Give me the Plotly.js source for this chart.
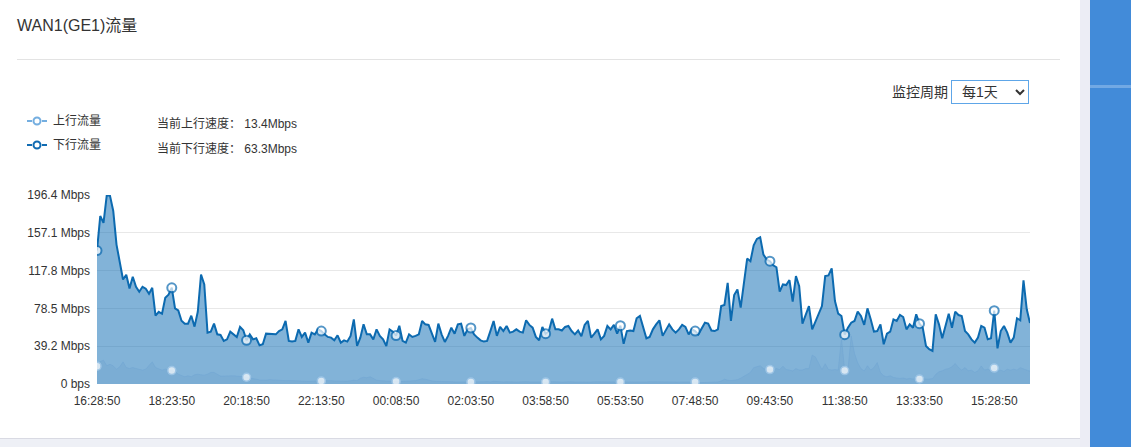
<!DOCTYPE html>
<html>
<head>
<meta charset="utf-8">
<script src="https://cdn.plot.ly/plotly-3.0.1.min.js"></script>
<style>
  html, body { margin:0; padding:0; width:1131px; height:447px; overflow:hidden; background:#eef0f6;
    font-family:"Liberation Sans", Arial, "Noto Sans CJK SC", sans-serif; color:#333; }
  #card { position:absolute; left:0; top:0; width:1080px; height:438px; background:#fff; border-bottom:1px solid #d9dae3; }
  #title { position:absolute; left:17px; top:15px; font-size:16px; line-height:22px; color:#333; }
  #sep { position:absolute; left:17px; top:59px; width:1043px; height:1px; background:#e3e3e3; }
  #period { position:absolute; left:892px; top:83px; font-size:14px; line-height:18px; color:#333; }
  #sel { position:absolute; left:951px; top:80px; width:76px; height:22px; border:1px solid #5ea6e8; background:#fff; }
  #sel span { position:absolute; left:10px; top:2px; font-size:14px; line-height:18px; color:#333; }
  #sel svg { position:absolute; left:63px; top:8px; }
  .leg { position:absolute; left:27px; font-size:12px; line-height:14px; }
  .leg svg { position:absolute; left:0; top:1px; }
  .leg span { position:absolute; left:26px; top:0; white-space:nowrap; }
  .cur { position:absolute; left:157px; font-size:12px; line-height:14px; white-space:nowrap; }
  #chart { position:absolute; left:0; top:170px; width:1060px; height:240px; }
  #gstrip { position:absolute; left:1080px; top:0; width:10px; height:447px; background:#ecedf5; }
  #blue { position:absolute; left:1090px; top:0; width:41px; height:447px; background:#428bd9; overflow:hidden; }
  #blue .band { position:absolute; left:0; top:85px; width:41px; height:3px; background:#72a9e4; }
</style>
</head>
<body>
<div id="card">
  <div id="title">WAN1(GE1)流量</div>
  <div id="sep"></div>
  <div id="period">监控周期</div>
  <div id="sel"><span>每1天</span>
    <svg width="10" height="7" viewBox="0 0 10 7"><polyline points="1,1 5,5 9,1" fill="none" stroke="#333" stroke-width="2"/></svg>
  </div>
  <div class="leg" style="top:114px;">
    <svg width="20" height="12"><line x1="0" y1="6" x2="5" y2="6" stroke="#74aee0" stroke-width="2"/><circle cx="10" cy="6" r="3.5" fill="#fff" stroke="#74aee0" stroke-width="2"/><line x1="15" y1="6" x2="20" y2="6" stroke="#74aee0" stroke-width="2"/></svg>
    <span>上行流量</span>
  </div>
  <div class="leg" style="top:138px;">
    <svg width="20" height="12"><line x1="0" y1="6" x2="5" y2="6" stroke="#106bb2" stroke-width="2"/><circle cx="10" cy="6" r="3.5" fill="#fff" stroke="#106bb2" stroke-width="2"/><line x1="15" y1="6" x2="20" y2="6" stroke="#106bb2" stroke-width="2"/></svg>
    <span>下行流量</span>
  </div>
  <div class="cur" style="top:117px;">当前上行速度：&nbsp;13.4Mbps</div>
  <div class="cur" style="top:142px;">当前下行速度：&nbsp;63.3Mbps</div>
  <div id="chart"></div>
</div>
<div id="gstrip"></div>
<div id="blue"><div class="band"></div></div>
<script>
// Download (下行) Mbps, 5-minute samples from 16:28:50
const downValues = [
138.7,174.6,167.4,196,195.5,179.8,144.9,128,108.6,113.5,99.3,111.4,101,95.9,101,99,93.8,100,71,75,73,89.6,92.8,
100,78.6,76.5,65.8,62.7,62.7,71,59.6,75,113.8,103.4,53.4,54.4,62.7,51.6,51,44.8,46.4,54.4,51.6,48.9,59.3,55.8,
45.4,51.6,46.4,47.5,40.2,41.3,52.3,52.3,52.3,51.6,55,56.8,65.5,44.8,44.1,44.8,56.8,48.9,53.4,43,53.4,51.6,56.8,
55,51.6,48.9,48.2,45.4,50.6,43,45.4,44.1,50,67.2,39.5,48.2,62,51.6,51.6,46.4,56.8,50,46.4,39.5,56.8,54.4,
50.3,60.5,44.8,43,51.6,48.9,50,51.6,65.5,62,61.4,52.3,43.7,62.7,51.6,43.7,50,58.5,52.3,62,62.7,50,56.8,
58.2,51.6,48.2,45.4,44.1,44.8,55,65.5,50,59.3,55,60.3,53.4,54.4,56.8,54.4,53.4,66.2,61.4,58.5,48.9,45.4,59.3,
52.3,55,67.9,56.8,56.8,55.6,59.3,60.3,55,51.6,55.6,49.6,61.4,65.5,48.2,52.3,56.8,46.4,50,60.3,56.8,61.4,52.3,
60.6,41.7,55,55.6,55,68.3,70.7,58.5,47.5,48.9,56.8,62,66.2,50,56.8,62,56.8,53.4,56.8,61.4,59.3,51.6,56.8,
55,51.6,58.5,63.7,62.7,55.6,55,56.8,81,82.1,105.1,65.5,92.4,98.3,79.3,105.1,130.4,127.6,144.2,150.8,152.5,134.5,129.3,
127.6,123.4,121.3,95.9,103.5,102.8,108,85.5,112.1,101.7,62.7,73.1,81,56.8,65.5,73.1,81,112.1,112.8,120.1,86.2,73.1,70.7,
51.3,58.5,63.7,65.5,75.2,70.7,61.4,78.6,67.2,54.4,55,62,41.3,52.3,54.4,67.2,65.5,71.7,69.6,56.8,62,58.5,72.4,
62.7,58.5,39.5,36.1,34.4,72.4,62,47.5,61.4,73.1,58.5,75.2,71.7,70.7,55,51.6,46.4,43,48.2,60.3,58.5,46.4,47.5,
76.2,37.1,55,60.3,53.4,43,48.2,68.3,66.2,107.6,77.6,63.3
];
// Upload (上行) Mbps
const upValues = [
18.5,23.3,24.7,19,20.5,18.8,15.4,17.8,23,17.1,16.1,17.1,16.1,15.4,14.4,15.4,18.8,23,17.1,15.4,14.4,15.4,14.8,
14,13,10.2,8.5,7.5,8.5,7.5,9.5,10.2,9.5,9.2,10.2,12,12,10.2,8.2,8.2,8.5,8.2,8.5,8.2,8.2,7.5,
7,6.5,5.5,5,4.2,3.8,4,4.5,4.2,4.3,4,3.8,3.5,3.6,3.4,3.2,3,3.1,2.9,2.8,3,3.2,3.4,
3.1,3.3,3.8,3.5,3.2,3,3.4,3.2,3,3.3,4,3.5,6,7,6.5,7.5,6,4,3.5,3.2,3,2.8,2.7,
2.6,2.5,2.8,2.4,2.6,3,3.5,4.5,5.5,5,3.8,3.2,2.8,3,2.6,2.5,2.7,2.4,2.2,2.4,2.3,2.2,2.1,
2,2.2,2.4,2.1,2.3,2.5,2.2,2.8,2.4,2.2,2.1,2.3,2.5,2.2,2,2.3,2.6,2.4,2.2,2.1,2,2.2,2.1,
2,2.2,2.4,2.1,2.3,2,2.2,2.5,2.3,2.1,2,2.2,2.4,2.1,2,2.3,2.2,2,2.1,2.3,2.2,2,2.1,
2,2.2,2.1,2,2.3,2.4,2.2,2,2.1,2.3,2.2,2,2.1,2.3,2.2,2,2.1,2.2,2,2.1,2.3,2.2,2.1,
2,1.5,1.5,1.6,1.7,1.8,2,2.2,3,5,4,3.5,4,4.5,6,8,10.5,12,17,18,19,16,15,
15,14.5,16,15,18.5,15,14.5,13.5,16,14.5,14.5,16,16,30,28,21,15,21,15,14.5,15,14.5,48,
14,15,50,32,22,16,13.5,19,14.5,17.1,22.3,12,8.5,7.5,8.5,6.8,6.2,5.8,6.2,5.2,5.8,5.2,5.5,
5.2,4.8,5.2,5.2,5.5,10,12.6,13.7,15.4,16,18,21.3,17.1,14.4,17.1,13.7,14.4,12,13.7,18.8,14.4,15.4,13.7,
16.6,13,14.4,13,15.4,14.4,15.4,14.4,17,15.4,14.4,13.4
];
const xTickLabels = ["16:28:50","18:23:50","20:18:50","22:13:50","00:08:50","02:03:50","03:58:50",
  "05:53:50","07:48:50","09:43:50","11:38:50","13:33:50","15:28:50"];
const yTickVals = [0, 39.28, 78.56, 117.84, 157.12, 196.4];
const yTickText = ["0 bps","39.2 Mbps","78.5 Mbps","117.8 Mbps","157.1 Mbps","196.4 Mbps"];
const startTime = "16:28:50";
const stepMinutes = 5;
const markEvery = 23;

// time categories
const [h0, m0, s0] = startTime.split(":").map(Number);
const times = downValues.map((_, i) => {
  const t = (h0 * 60 + m0 + i * stepMinutes) % 1440;
  const hh = String(Math.floor(t / 60)).padStart(2, "0");
  const mm = String(t % 60).padStart(2, "0");
  return hh + ":" + mm + ":" + String(s0).padStart(2, "0");
});
const marked = (i) => i % markEvery === 0;

const downTrace = {
  x: times, y: downValues, type: "scatter", mode: "lines+markers", name: "下行流量",
  fill: "tozeroy", fillcolor: "rgba(6,104,178,0.5)",
  line: { color: "#0c6ab0", width: 2 },
  marker: { color: "#ffffff", size: downValues.map((v, i) => marked(i) ? 9 : 0),
    line: { color: "#0c6ab0", width: downValues.map((v, i) => marked(i) ? 2 : 0) } },
  hoverinfo: "skip", showlegend: false
};
const upTrace = {
  x: times, y: upValues, type: "scatter", mode: "lines+markers", name: "上行流量",
  fill: "tozeroy", fillcolor: "rgba(70,135,190,0.12)",
  line: { color: "rgba(110,165,210,0.45)", width: 1 },
  marker: { color: "#ffffff", size: upValues.map((v, i) => marked(i) ? 8 : 0),
    line: { color: "#a9cdec", width: upValues.map((v, i) => marked(i) ? 1.5 : 0) } },
  hoverinfo: "skip", showlegend: false
};

const layout = {
  width: 1060, height: 240,
  margin: { l: 97, r: 30, t: 25, b: 25.5 },
  paper_bgcolor: "rgba(0,0,0,0)", plot_bgcolor: "rgba(0,0,0,0)",
  font: { family: "Liberation Sans, Arial, sans-serif", size: 12, color: "#333" },
  showlegend: false,
  xaxis: {
    type: "category", range: [0, times.length - 1],
    tickmode: "array", tickvals: times.filter((t, i) => marked(i)), ticktext: xTickLabels,
    showgrid: false, zeroline: false, showline: false,
    ticks: "outside", ticklen: 6, tickcolor: "rgba(0,0,0,0)",
    tickfont: { size: 12, color: "#333" }, fixedrange: true
  },
  yaxis: {
    range: [0, 196.4], tickmode: "array", tickvals: yTickVals, ticktext: yTickText,
    showgrid: true, gridcolor: "#e8e8e8", gridwidth: 1, zeroline: false, showline: false, ticks: "",
    ticklabelstandoff: 6, tickfont: { size: 12, color: "#333" }, fixedrange: true
  }
};
Plotly.newPlot("chart", [downTrace, upTrace], layout, { displayModeBar: false, staticPlot: true });
</script>
</body>
</html>
